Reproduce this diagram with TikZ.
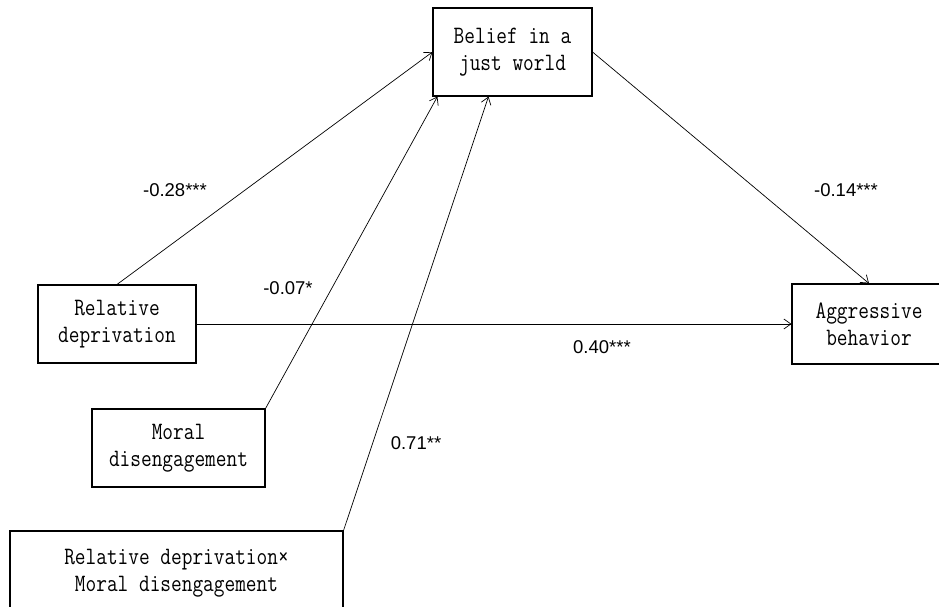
\documentclass[tikz,border=0pt]{standalone}
\usepackage{fontspec}
\usepackage{tikz}
\usetikzlibrary{arrows.meta}
\newfontfamily\coeffont{Liberation Sans}
\newfontfamily\boxfont[FakeStretch=0.83]{Latin Modern Mono}

\begin{document}
\begin{tikzpicture}[x=1pt,y=-1pt,>={Straight Barb[length=7pt,width=10pt]},
  varbox/.style={draw,line width=1.1pt,align=center,inner sep=0pt,
    font=\boxfont\fontsize{25}{27}\selectfont},
  coef/.style={font=\coeffont\fontsize{18.5}{22}\selectfont},
  path/.style={line width=0.7pt,->}]
  \useasboundingbox (0,0) rectangle (939,607);
  % variables
  \node[varbox,minimum width=159pt,minimum height=88pt] (belief) at (512.5,52) {Belief in a\\just world};
  \node[varbox,minimum width=158pt,minimum height=78pt] (reldep) at (117,324) {Relative\\deprivation};
  \node[varbox,minimum width=154pt,minimum height=80pt] (aggr) at (869,324) {Aggressive\\behavior};
  \node[varbox,minimum width=173pt,minimum height=78pt] (moral) at (178.5,448) {Moral\\disengagement};
  \node[varbox,minimum width=333pt,minimum height=84pt] (inter) at (176.5,573) {Relative deprivation×\\Moral disengagement};
  % paths
  \draw[path] (reldep.north) -- (belief.west);
  \draw[path] (moral.north east) -- ([xshift=5pt]belief.south west);
  \draw[path] (inter.north east) -- ([xshift=-24pt]belief.south);
  \draw[path] (belief.east) -- (aggr.north);
  \draw[path] (reldep.east) -- (aggr.west);
  % coefficients
  \node[coef] (c1) at (175,190) {-0.28***};
  \node[coef] (c2) at (288,288) {-0.07*};
  \node[coef] (c3) at (602,347) {0.40***};
  \node[coef] (c4) at (846,190) {-0.14***};
  \node[coef] (c5) at (416,443) {0.71**};
\end{tikzpicture}
\end{document}
